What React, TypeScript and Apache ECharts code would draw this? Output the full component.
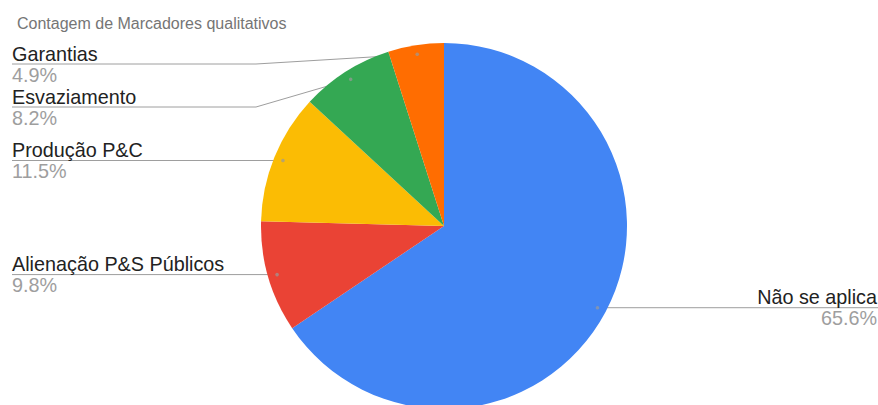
import React, { useEffect, useRef } from "react";
import * as echarts from "echarts";

const titleText = "Contagem de Marcadores qualitativos";
const categories = [
  "Não se aplica",
  "Alienação P&S Públicos",
  "Produção P&C",
  "Esvaziamento",
  "Garantias",
];
const counts = [40, 6, 7, 5, 3];
const colors = ["#4285F4", "#EA4335", "#FBBC04", "#34A853", "#FF6D01"];

const W = 878;
const H = 405;
const CX = 444;
const CY = 226;
const R = 183;
const DOT_R = 0.95 * R;
const LEFT_X = 12;
const RIGHT_X = 877;
const MIN_LINE_Y = 64;
const GAP = 43;
const BEND_OFFSET = 5;
const FONT = "'Liberation Sans', Arial, sans-serif";

type PlanItem = { i: number; left: boolean; dot: number[]; y: number };

function labelPlan(): PlanItem[] {
  const total = counts.reduce((a, b) => a + b, 0);
  let cum = 0;
  const items: PlanItem[] = counts.map((v, i) => {
    const mid = ((90 - (360 * (cum + v / 2)) / total) * Math.PI) / 180;
    cum += v;
    const dx = Math.cos(mid);
    const dy = -Math.sin(mid);
    return { i, left: dx < 0, dot: [CX + DOT_R * dx, CY + DOT_R * dy], y: 0 };
  });
  for (const side of [true, false]) {
    const list = items
      .filter((it) => it.left === side)
      .sort((a, b) => a.dot[1] - b.dot[1]);
    let prev = -Infinity;
    for (const it of list) {
      it.y = Math.max(it.dot[1], MIN_LINE_Y, prev + GAP);
      prev = it.y;
    }
  }
  return items;
}

export default function App() {
  const ref = useRef<HTMLDivElement>(null);
  useEffect(() => {
    if (!ref.current) return;
    const chart = echarts.init(ref.current, null, { renderer: "svg" });
    const plan = labelPlan();
    chart.setOption({
      animation: false,
      backgroundColor: "#ffffff",
      title: {
        text: titleText,
        left: 12,
        top: 10,
        textStyle: {
          fontSize: 16,
          fontWeight: "normal",
          color: "#757575",
          fontFamily: FONT,
        },
      },
      graphic: plan.map((it) => ({
        type: "circle",
        z: 100,
        silent: true,
        shape: { cx: it.dot[0], cy: it.dot[1], r: 1.8 },
        style: { fill: "#9a9a9a", opacity: 0.7 },
      })),
      series: [
        {
          type: "pie",
          center: [CX, CY],
          radius: R,
          startAngle: 90,
          clockwise: true,
          silent: true,
          percentPrecision: 1,
          avoidLabelOverlap: false,
          emphasis: { disabled: true },
          itemStyle: { borderWidth: 0 },
          data: categories.map((name, i) => ({
            name,
            value: counts[i],
            itemStyle: { color: colors[i] },
          })),
          label: {
            show: true,
            position: "outside",
            formatter: "{n|{b}}\n{p|{d}%}",
            rich: {
              n: { fontSize: 19.8, color: "#222222", lineHeight: 21, fontFamily: FONT },
              p: { fontSize: 19.8, color: "#9e9e9e", lineHeight: 21, fontFamily: FONT },
            },
          },
          labelLine: {
            show: true,
            length: 10,
            length2: 10,
            lineStyle: { color: "#9e9e9e", width: 1 },
          },
          labelLayout: (params: any) => {
            const it = plan[params.dataIndex];
            const bendX = it.left ? CX - R - BEND_OFFSET : CX + R + BEND_OFFSET;
            const endX = it.left ? LEFT_X : W;
            return {
              x: it.left ? LEFT_X : RIGHT_X,
              y: it.y,
              align: it.left ? "left" : "right",
              verticalAlign: "middle",
              labelLinePoints: [
                [it.dot[0], it.dot[1]],
                [bendX, it.y],
                [endX, it.y],
              ],
            };
          },
        },
      ],
    });
    return () => chart.dispose();
  }, []);
  return (
    <div
      ref={ref}
      style={{ position: "absolute", left: 0, top: 0, width: W, height: H }}
    />
  );
}
